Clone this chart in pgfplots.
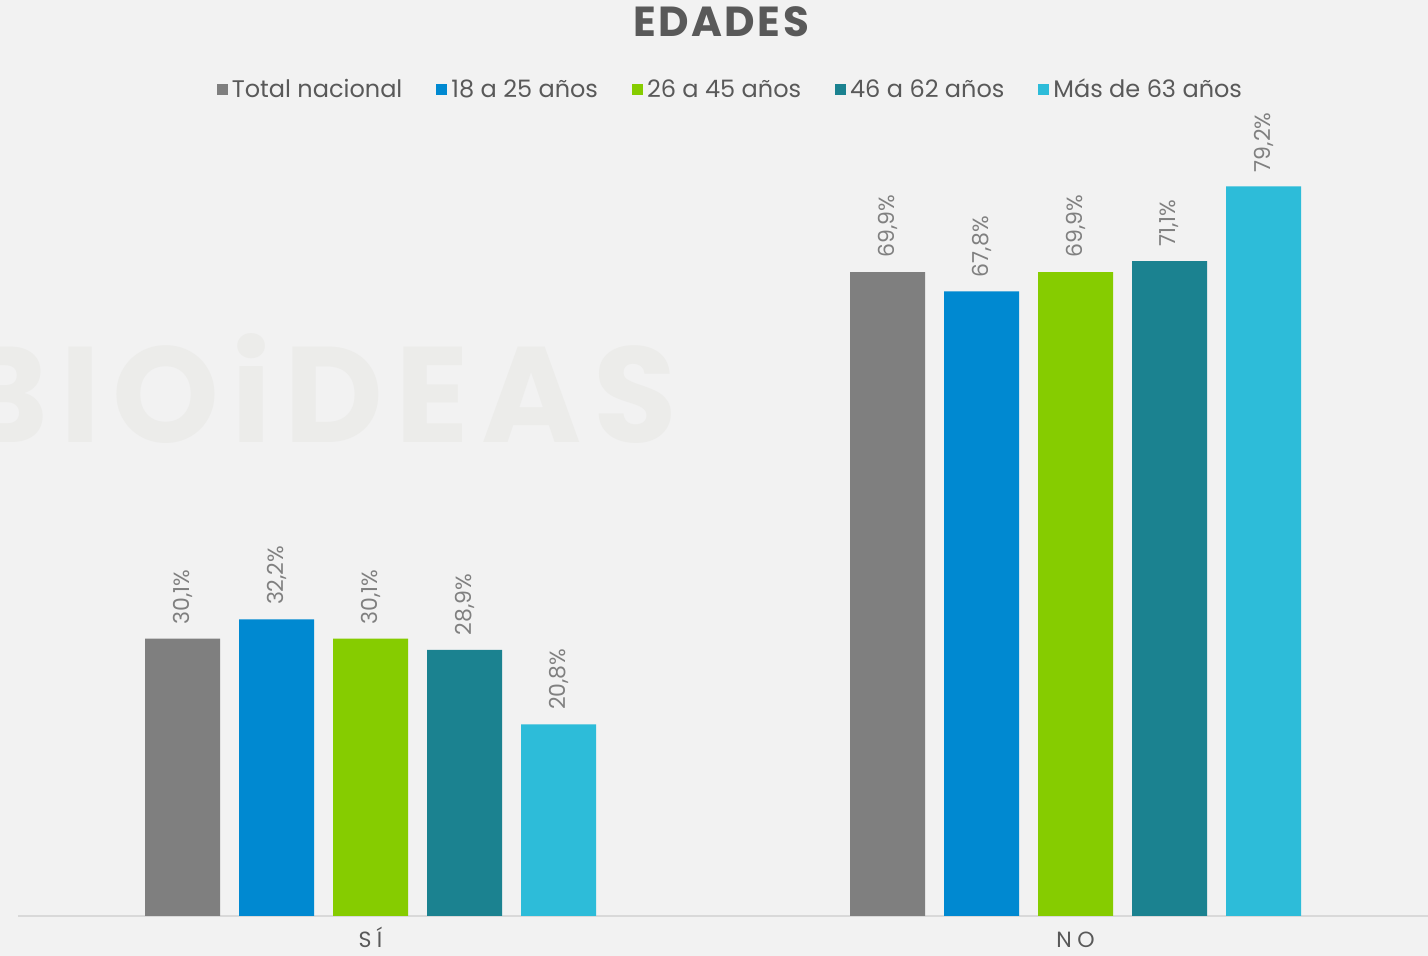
\documentclass[border=0pt]{standalone}
\usepackage{fontspec}
\setmainfont{Poppins}
\usepackage{pgfplots}
\pgfplotsset{compat=1.18}
\definecolor{bgc}{RGB}{242,242,242}
\definecolor{wm}{RGB}{236,236,234}
\definecolor{cgray}{RGB}{127,127,127}
\definecolor{cblue}{RGB}{0,137,209}
\definecolor{cgreen}{RGB}{134,204,0}
\definecolor{cteal}{RGB}{27,130,144}
\definecolor{ccyan}{RGB}{45,188,217}
\definecolor{txt}{RGB}{89,89,89}
\definecolor{lbl}{RGB}{128,128,128}
\definecolor{axisc}{RGB}{217,217,217}
\begin{document}
\begin{tikzpicture}
\path[use as bounding box] (-9pt,-20pt) rectangle (705pt,458pt);
\fill[bgc] (-9pt,-20pt) rectangle (705pt,458pt);
% faint watermark, cut at the left edge as in the original
\node[font=\fontsize{68}{68}\selectfont\bfseries\addfontfeature{LetterSpace=9}, text=wm] at (150pt,263.5pt) {BIOiDEAS};
\node[font=\fontsize{21}{21}\selectfont\bfseries\addfontfeature{LetterSpace=6}, text=txt] at (351.5pt,447pt) {EDADES};
\begin{axis}[
  at={(0,0)}, anchor=south west,
  scale only axis, width=705pt, height=391.5pt,
  xmin=-0.5, xmax=1.5, ymin=0, ymax=85,
  ybar=9.5pt, bar width=37.5pt,
  axis x line*=bottom, axis y line=none,
  x axis line style={draw=axisc, line width=1pt, -},
  xtick={0,1}, xticklabels={SÍ, NO}, major tick length=0pt,
  x tick label style={font=\fontsize{11}{11}\selectfont\addfontfeature{LetterSpace=25}, text=txt,
    anchor=base, inner sep=0pt, yshift=-16pt},
  clip=false,
  nodes near coords={\pgfmathprintnumber[assume math mode=true, use comma, fixed, fixed zerofill, precision=1]{\pgfplotspointmeta}\%},
  every node near coord/.append style={rotate=90, anchor=west, inner xsep=7pt, inner ysep=0pt,
    font=\fontsize{11}{11}\selectfont, text=lbl},
  legend columns=5,
  legend style={at={(0.506,1.055)}, anchor=center, draw=none, fill=none,
    font=\fontsize{12}{12}\selectfont, text=txt,
    /tikz/every even column/.append style={column sep=15pt}},
  legend image code/.code={\fill[#1] (0pt,-2.75pt) rectangle (5.5pt,2.75pt);},
]
\addplot[fill=cgray, draw=none] coordinates {(0,30.1) (1,69.9)};
\addplot[fill=cblue, draw=none] coordinates {(0,32.2) (1,67.8)};
\addplot[fill=cgreen, draw=none] coordinates {(0,30.1) (1,69.9)};
\addplot[fill=cteal, draw=none] coordinates {(0,28.9) (1,71.1)};
\addplot[fill=ccyan, draw=none] coordinates {(0,20.8) (1,79.2)};
\legend{Total nacional, 18 a 25 años, 26 a 45 años, 46 a 62 años, Más de 63 años}
\end{axis}
\end{tikzpicture}
\end{document}
